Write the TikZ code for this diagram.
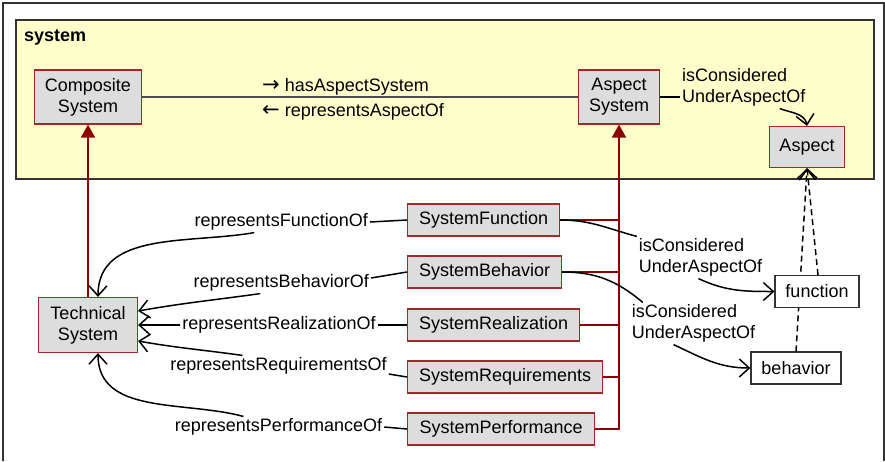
\documentclass[tikz,border=0pt]{standalone}
\usepackage{fontspec}
\setmainfont{Liberation Sans}
\newfontfamily\arrfont{DejaVu Sans}
\usetikzlibrary{arrows.meta,calc}
\definecolor{boxred}{RGB}{160,40,40}
\definecolor{busred}{RGB}{139,0,0}
\definecolor{boxgray}{RGB}{221,221,221}
\definecolor{pkgyellow}{RGB}{255,255,204}
\definecolor{framegray}{RGB}{51,51,51}
\begin{document}
\begin{tikzpicture}[x=1pt,y=-1pt,
  every node/.style={font=\fontsize{18}{21}\selectfont},
  box/.style={draw=boxred, fill=boxgray, line width=1.2pt, inner sep=0pt, align=center, minimum height=32pt},
  wbox/.style={draw=black!80, fill=white, line width=1.2pt, inner sep=0pt, minimum height=32pt},
  lbl/.style={inner sep=2pt, align=left},
  conn/.style={line width=1.5pt, black},
  opentip/.style={-{Straight Barb[length=10pt,width=18pt,line width=1.5pt]}},
  bus/.style={busred, line width=1.8pt},
  bustip/.style={-{Triangle[length=13pt,width=14pt]}},
  dep/.style={conn, dash pattern=on 6pt off 4pt},
]
\useasboundingbox (0,0) rectangle (885,461);
\draw[framegray, line width=2pt] (3,461) -- (3,3) -- (884,3) -- (884,461);
\node[draw=framegray, fill=pkgyellow, line width=1.5pt, minimum width=858pt, minimum height=159pt, inner sep=0pt, anchor=north west] (pkg) at (15,19) {};
\node[anchor=west, inner sep=2pt, font=\bfseries\fontsize{18}{21}\selectfont] (pkgname) at (22,37) {system};

\node[box, minimum width=107pt, minimum height=54pt] (cs) at (88,97) {Composite\\System};
\node[box, minimum width=81pt, minimum height=54pt] (as) at (619,97) {Aspect\\System};
\node[box, minimum width=75pt, minimum height=41pt] (asp) at (807,147) {Aspect};
\node[box, minimum width=99pt, minimum height=55pt] (ts) at (88,325) {Technical\\System};
\node[box, anchor=west, minimum width=152pt] (sf) at (407,220) {SystemFunction};
\node[box, anchor=west, minimum width=154pt] (sb) at (407,272) {SystemBehavior};
\node[box, anchor=west, minimum width=172pt] (sr) at (407,325) {SystemRealization};
\node[box, anchor=west, minimum width=195pt] (sq) at (407,377) {SystemRequirements};
\node[box, anchor=west, minimum width=187pt] (sp) at (407,429) {SystemPerformance};
\node[wbox, minimum width=90pt] (bh) at (796,368) {behavior};
\draw[dep, opentip] (bh.north) -- (asp.south);
\node[wbox, minimum width=84pt] (fn) at (817,291.5) {function};
\draw[dep, opentip] ([xshift=1pt]fn.north) -- (asp.south);

% red bus
\draw[bus, bustip] (sp.east) -- (sp.east -| as.south) -- (as.south);
\foreach \n in {sf,sb,sr,sq} \draw[bus] (\n.east) -- (\n.east -| as.south);
\draw[bus, bustip] (ts.north) -- (cs.south);

% composite -- aspect system
\draw[line width=1.2pt, black!70] (cs.east) -- (as.west);
\node[anchor=west, inner sep=2pt] (has) at (260,87) {{\arrfont\fontsize{21}{21}\selectfont →} hasAspectSystem};
\node[anchor=west, inner sep=2pt] (rep) at (260,112) {{\arrfont\fontsize{21}{21}\selectfont ←} representsAspectOf};

% aspect system -- aspect
\node[lbl, anchor=west] (ica) at (680,87.5) {isConsidered\\UnderAspectOf};
\draw[conn] (as.east) -- (ica.west |- as.east);
\draw[conn, opentip] ([xshift=36pt]ica.south) to[out=-20,in=100] (asp.north);

% left relations
\node[lbl, anchor=east] (rf) at (370,222) {representsFunctionOf};
\draw[conn] (rf.east) -- (sf.west);
\draw[conn, opentip] ([xshift=-27pt]rf.south) to[out=190,in=90] ([xshift=10pt]ts.north);

\node[lbl, anchor=east] (rb) at (371,283) {representsBehaviorOf};
\draw[conn] ([yshift=5pt]rb.east) -- (sb.west);
\draw[conn, opentip] ([xshift=-21pt]rb.south) to[out=188,in=10] ([yshift=14pt]ts.east);

\node[lbl] (rr) at (279,325) {representsRealizationOf};
\draw[conn, opentip] (rr.west) -- (ts.east);
\draw[conn] (rr.east) -- (sr.west);

\node[lbl] (rq) at (278.5,366) {representsRequirementsOf};
\draw[conn] ([yshift=-8pt]rq.east) -- (sq.west);
\draw[conn, opentip] ([xshift=-36pt]rq.north) to[out=172,in=-10] ([yshift=-16pt]ts.east);

\node[lbl] (rp) at (278.5,427) {representsPerformanceOf};
\draw[conn] (rp.east) -- (sp.west);
\draw[conn, opentip] ([xshift=-35pt]rp.north) to[out=165,in=-90] ([xshift=10pt]ts.south);

% right relations
\node[lbl] (ic1) at (700.5,257.5) {isConsidered\\UnderAspectOf};
\draw[conn] (sf.east) to[out=0,in=165] (ic1.north west);
\draw[conn, opentip] ([xshift=-2pt]ic1.south) to[out=-25,in=180] (fn.west);

\node[lbl] (ic2) at (693.5,323.5) {isConsidered\\UnderAspectOf};
\draw[conn] (sb.east) to[out=0,in=140] ([xshift=13pt]ic2.north west);
\draw[conn, opentip] ([xshift=-20pt]ic2.south) to[out=-25,in=180] (bh.west);
\end{tikzpicture}
\end{document}
